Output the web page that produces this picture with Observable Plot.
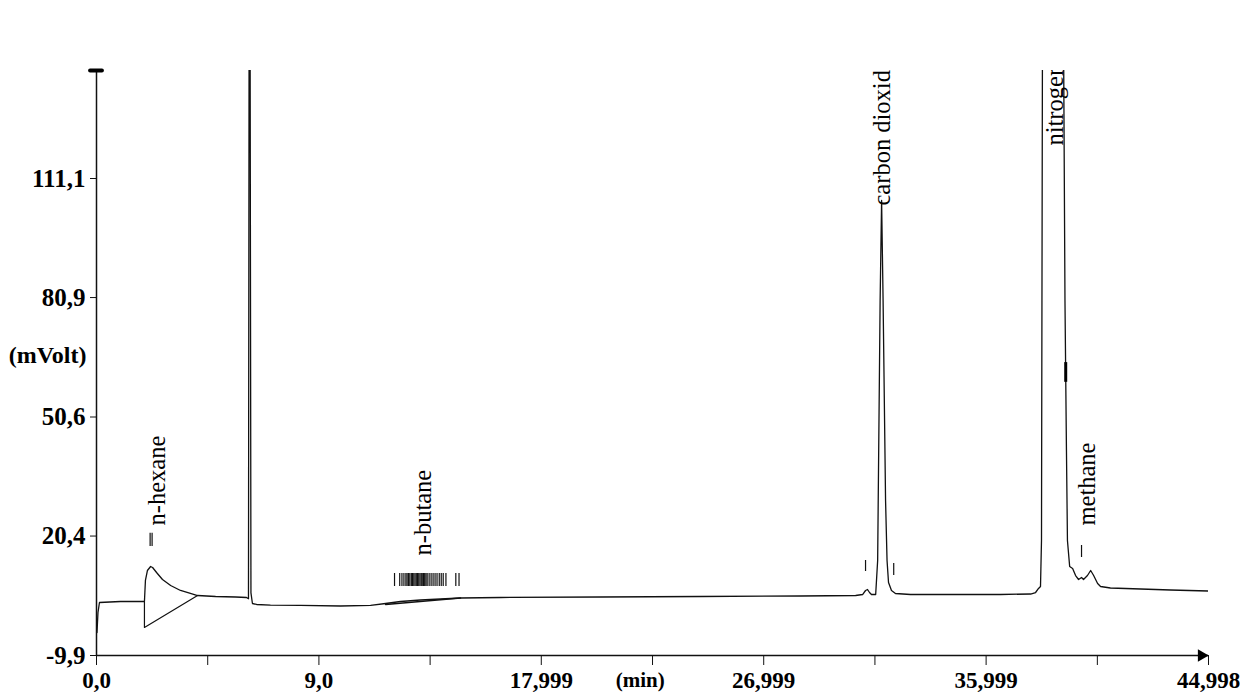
<!DOCTYPE html>
<html>
<head>
<meta charset="utf-8">
<script src="https://cdn.jsdelivr.net/npm/d3@7"></script>
<script src="https://cdn.jsdelivr.net/npm/@observablehq/plot@0.6"></script>
<style>
  html, body { margin: 0; padding: 0; background: #fff; }
  #chart { width: 1240px; height: 696px; }
</style>
</head>
<body>
<div id="chart"></div>
<script>
// ---- Data ----
// detector trace: retention time (min) and signal (mVolt)
const traceTime = [0.02, 0.06, 0.12, 0.97, 1.94, 1.98, 2.06, 2.19, 2.27, 2.43, 2.67, 3.00, 3.40, 3.80, 4.09, 4.82, 5.63, 6.07, 6.15,
  6.175, 6.215, 6.25, 6.31, 6.48, 7.04, 8.26, 9.87, 11.09, 11.70, 12.30, 13.11, 13.92, 14.73, 16.35, 20.40, 24.44, 28.49,
  30.72, 31.00, 31.12, 31.20, 31.28, 31.36, 31.53, 31.61, 31.71, 31.77, 31.83, 31.93, 31.99, 32.05, 32.17, 32.33, 32.94,
  34.56, 36.58, 37.80, 38.00, 38.12, 38.20, 38.24, 38.28, 39.13, 39.19, 39.25, 39.29, 39.38, 39.50, 39.62, 39.74, 39.86,
  39.94, 40.10, 40.23, 40.35, 40.51, 40.63, 41.03, 42.25, 43.46, 44.99];
const traceMv = [-4.07, 1.01, 3.54, 3.80, 3.80, 9.13, 11.66, 12.68, 12.42, 11.16, 9.38, 7.86, 6.59, 5.83, 5.32, 5.07, 4.94, 4.81, 4.50,
  150, 150, 6.0, 3.29, 3.04, 2.90, 2.79, 2.66, 2.79, 3.29, 3.80, 4.18, 4.43, 4.69, 4.81, 4.94, 5.07, 5.19,
  5.32, 5.57, 6.59, 6.84, 6.08, 5.57, 5.57, 14.2, 80.16, 105.52, 80.16, 29.42, 14.2, 8.62, 6.59, 5.83, 5.57,
  5.57, 5.57, 5.70, 6.08, 7.10, 7.60, 19.27, 150, 150, 80.16, 42.10, 19.27, 12.68, 12.17, 10.39, 9.38, 9.89,
  9.38, 10.39, 11.66, 10.39, 8.36, 7.60, 7.22, 6.97, 6.72, 6.46];

// integration baselines drawn under peaks
const hexaneBaseTime = [1.94, 1.94, 4.09];
const hexaneBaseMv = [3.80, -2.80, 5.32];
const butaneBaseTime = [11.70, 14.73];
const butaneBaseMv = [3.04, 4.69];

// peak names
const peakNames = ["n-hexane", "n-butane", "carbon dioxide", "nitrogen", "methane"];
const peakLabelTime = [2.47, 13.23, 31.81, 38.81, 40.10];
const peakLabelMv = [23.08, 15.47, 104.25, 119.47, 23.08];

// peak start/end markers (short vertical ticks)
const markerTime = [2.17, 2.25,
  12.06, 12.27, 12.36, 12.44, 12.52, 12.57, 12.63, 12.68, 12.74, 12.79, 12.84, 12.89, 12.94, 12.99, 13.04, 13.09,
  13.14, 13.18, 13.23, 13.28, 13.33, 13.38, 13.46, 13.54, 13.62, 13.70, 13.78, 13.87, 13.95, 14.03, 14.14, 14.54, 14.67,
  31.12, 32.26, 39.86];
const markerLow = [17.75, 17.75,
  7.6, 7.6, 7.6, 7.6, 7.6, 7.6, 7.6, 7.6, 7.6, 7.6, 7.6, 7.6, 7.6, 7.6, 7.6, 7.6,
  7.6, 7.6, 7.6, 7.6, 7.6, 7.6, 7.6, 7.6, 7.6, 7.6, 7.6, 7.6, 7.6, 7.6, 7.6, 7.6, 7.6,
  11.41, 10.39, 14.96];
const markerHigh = [21.1, 21.1,
  10.9, 10.9, 10.9, 10.9, 10.9, 10.9, 10.9, 10.9, 10.9, 10.9, 10.9, 10.9, 10.9, 10.9, 10.9, 10.9,
  10.9, 10.9, 10.9, 10.9, 10.9, 10.9, 10.9, 10.9, 10.9, 10.9, 10.9, 10.9, 10.9, 10.9, 10.9, 10.9, 10.9,
  14.2, 13.44, 18.0];

// heavy mark on the nitrogen tail
const nitrogenMark = {t: 39.22, lo: 59.4, hi: 64.4};

// axes
const yTickValues = [-9.9, 20.4, 50.6, 80.9, 111.1];
const yTickLabels = ["-9,9", "20,4", "50,6", "80,9", "111,1"];
const xTickValues = [0, 9, 17.999, 26.999, 35.999, 44.998];
const xTickLabels = ["0,0", "9,0", "17,999", "26,999", "35,999", "44,998"];
const xMinorTicks = [4.5, 13.5, 22.5, 31.5, 40.5];
const xMin = 0, xMax = 44.998, yMin = -9.9, yMax = 138.5;
const xAxisTitle = {label: "(min)", t: 22.0};
const yAxisTitle = {label: "(mVolt)", v: 66.2};

// ---- build tables ----
const trace = traceTime.map((t, i) => ({t, v: traceMv[i]}));
const hexBase = hexaneBaseTime.map((t, i) => ({t, v: hexaneBaseMv[i]}));
const butBase = butaneBaseTime.map((t, i) => ({t, v: butaneBaseMv[i]}));
const labels = peakNames.map((name, i) => ({name, t: peakLabelTime[i], v: peakLabelMv[i]}));
const markers = markerTime.map((t, i) => ({t, lo: markerLow[i], hi: markerHigh[i]}));
const yTicks = yTickValues.map((v, i) => ({v, label: yTickLabels[i]}));
const xTicks = xTickValues.map((t, i) => ({t, label: xTickLabels[i]}));

const ink = "#111";
const chart = Plot.plot({
  width: 1240,
  height: 696,
  marginLeft: 96,
  marginRight: 32,
  marginTop: 70,
  marginBottom: 41,
  x: {domain: [xMin, xMax]},
  y: {domain: [yMin, yMax]},
  style: {fontFamily: "'Liberation Serif', 'Times New Roman', serif", fontSize: "21px", color: "#000", background: "#fff"},
  marks: [
    // axes lines
    Plot.ruleX([xMin], {y1: yMin, y2: yMax, stroke: ink, strokeWidth: 1.5}),
    Plot.ruleY([yMin], {x1: xMin, x2: xMax, stroke: ink, strokeWidth: 1.5}),
    Plot.ruleY([yMax], {x1: -0.24, x2: 0.24, stroke: "#000", strokeWidth: 4, strokeLinecap: "round"}),
    Plot.dot([{t: xMax, v: yMin}], {x: "t", y: "v", symbol: "triangle2", rotate: 90, r: 6, fill: "#000", stroke: "none", dx: -7}),
    // tick lines
    Plot.axisY({ticks: yTickValues, tickFormat: () => "", tickSize: 6, label: null, stroke: ink}),
    Plot.axisX({ticks: xTickValues, tickFormat: () => "", tickSize: 10, label: null, stroke: ink}),
    Plot.axisX({ticks: xMinorTicks, tickFormat: () => "", tickSize: 10, label: null, stroke: ink}),
    // tick labels
    Plot.text(yTicks, {y: "v", text: "label", frameAnchor: "left", dx: -11, textAnchor: "end", lineAnchor: "middle", fontSize: 25, fontWeight: "bold", fill: "#000"}),
    Plot.text(xTicks, {x: "t", text: "label", frameAnchor: "bottom", dy: 25, lineAnchor: "middle", fontSize: 23, fontWeight: "bold", fill: "#000"}),
    Plot.text([xAxisTitle], {x: "t", text: "label", frameAnchor: "bottom", dy: 25, fontSize: 21, fontWeight: "bold", lineAnchor: "middle", fill: "#000"}),
    Plot.text([yAxisTitle], {y: "v", text: "label", frameAnchor: "left", dx: -10, textAnchor: "end", lineAnchor: "middle", fontSize: 24, fontWeight: "bold", fill: "#000"}),
    // integration baselines
    Plot.line(hexBase, {x: "t", y: "v", stroke: ink, strokeWidth: 1.2}),
    Plot.line(butBase, {x: "t", y: "v", stroke: ink, strokeWidth: 1.6}),
    // detector trace
    Plot.line(trace, {x: "t", y: "v", stroke: ink, strokeWidth: 1.3, clip: true}),
    // markers
    Plot.ruleX(markers, {x: "t", y1: "lo", y2: "hi", stroke: ink, strokeWidth: 1.2}),
    Plot.ruleX([nitrogenMark], {x: "t", y1: "lo", y2: "hi", stroke: "#000", strokeWidth: 3}),
    // peak labels
    Plot.text(labels, {x: "t", y: "v", text: "name", rotate: -90, textAnchor: "start", lineAnchor: "middle", fontSize: 24.5, fill: "#000", clip: true})
  ]
});
document.getElementById("chart").appendChild(chart);
</script>
</body>
</html>
